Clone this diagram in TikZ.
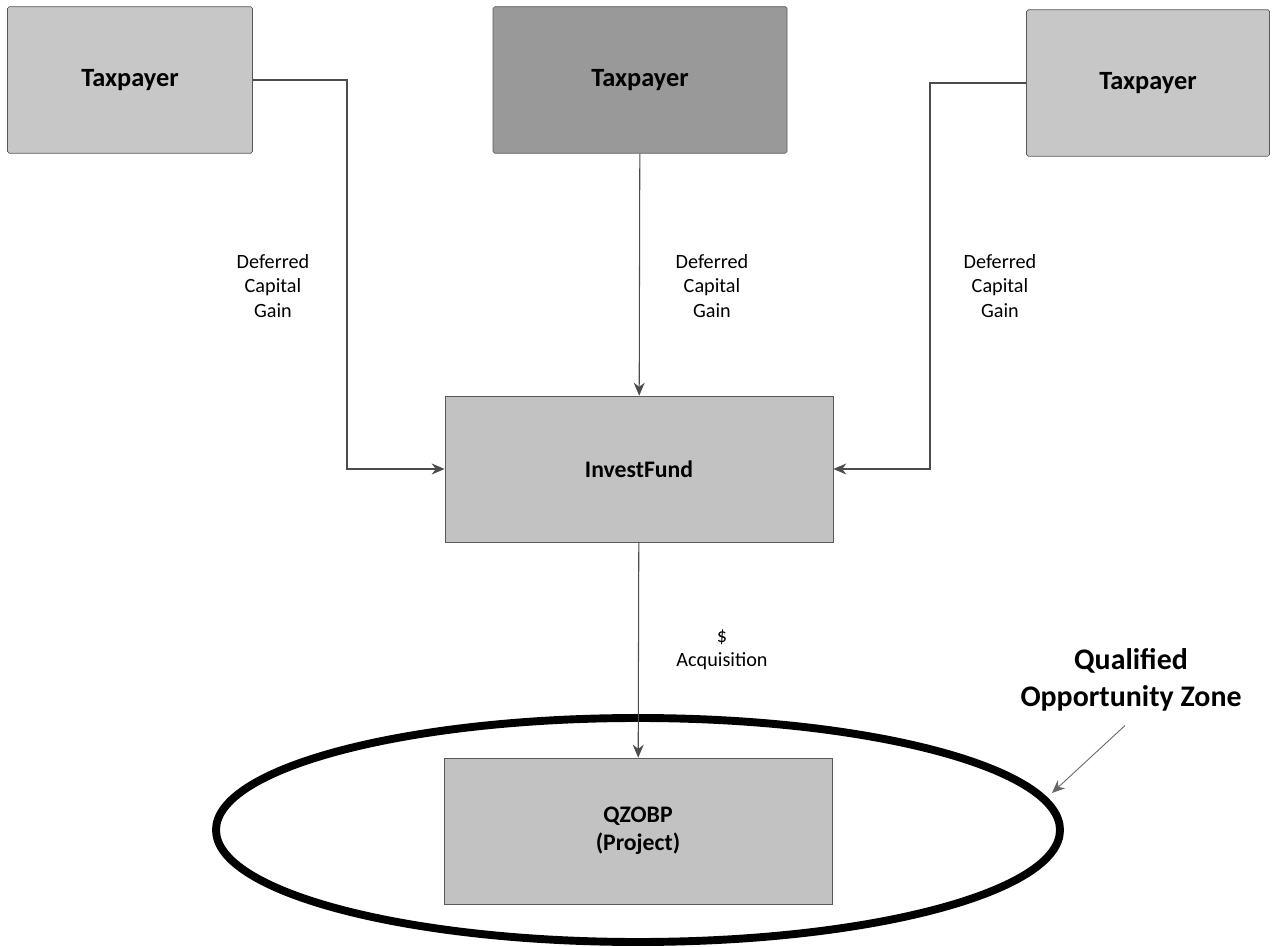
\documentclass[tikz,border=0pt]{standalone}
\usepackage{fontspec}
\setmainfont{Carlito}
\usetikzlibrary{arrows.meta, positioning, shapes.geometric}

\begin{document}
\begin{tikzpicture}[
        x=0.2mm, y=-0.2mm,
        % Node styles
        taxpayer/.style={rectangle, draw=black!65, fill=black!22, rounded corners=1pt,
                        minimum height=29.3mm, inner sep=0pt, font=\fontsize{15}{17}\selectfont\bfseries},
        fund/.style={rectangle, draw=black!65, fill=black!24, minimum width=77.6mm,
                        minimum height=29.2mm, align=center, font=\fontsize{13.5}{16}\selectfont\bfseries},
        zone/.style={ellipse, draw=black, line width=4.5pt, minimum width=168.8mm, minimum height=44.8mm},
        flowtext/.style={align=center, font=\fontsize{11.5}{13.8}\selectfont},
        arrow/.style={draw=black!70, line width=0.6pt, -{Stealth[length=2.6mm, width=2.2mm]}}
    ]
        \useasboundingbox (0,0) rectangle (1274,947);

        % Ellipse of the zone first, so the project box sits on top
        \node[zone] (zone) at (638,830) {};

        % Taxpayers on top row
        \node[taxpayer, minimum width=49mm] (lefttax) at (130,80) {Taxpayer};
        \node[taxpayer, minimum width=58.8mm, fill=black!40] (midtax) at (640,80) {Taxpayer};
        \node[taxpayer, minimum width=48.6mm] (righttax) at (1148,83) {Taxpayer};

        % Fund and project
        \node[fund] (fund) at (639,469) {InvestFund};
        \node[fund] (project) at (638,831) {QZOBP\\(Project)};

        % Bends of the side connectors
        \coordinate (leftbend) at (347,469);
        \coordinate (rightbend) at (930,469);

        % Labels
        \node[flowtext] (leftgain) at (273,286) {Deferred\\Capital\\Gain};
        \node[flowtext] (midgain) at (712,286) {Deferred\\Capital\\Gain};
        \node[flowtext] (rightgain) at (1000,286) {Deferred\\Capital\\Gain};
        \node[flowtext] (acq) at (722,650) {\$\\Acquisition};
        \node[align=center, font=\fontsize{17}{21}\selectfont\bfseries] (qoz) at (1131,680) {Qualified\\Opportunity Zone};
        \coordinate (zonetip) at (1052,793);

        % Arrows into the fund
        \draw[arrow] (lefttax.east) -| (leftbend) -- (fund.west);
        \draw[arrow] (midtax) -- (fund);
        \draw[arrow] (righttax.west) -| (rightbend) -- (fund.east);

        % Fund to project
        \draw[arrow] (fund) -- (project);

        % Pointer to the zone
        \draw[arrow, draw=black!60, line width=0.5pt] ([xshift=-1.2mm, yshift=-1.6mm]qoz.south) -- (zonetip);
    \end{tikzpicture}
\end{document}
